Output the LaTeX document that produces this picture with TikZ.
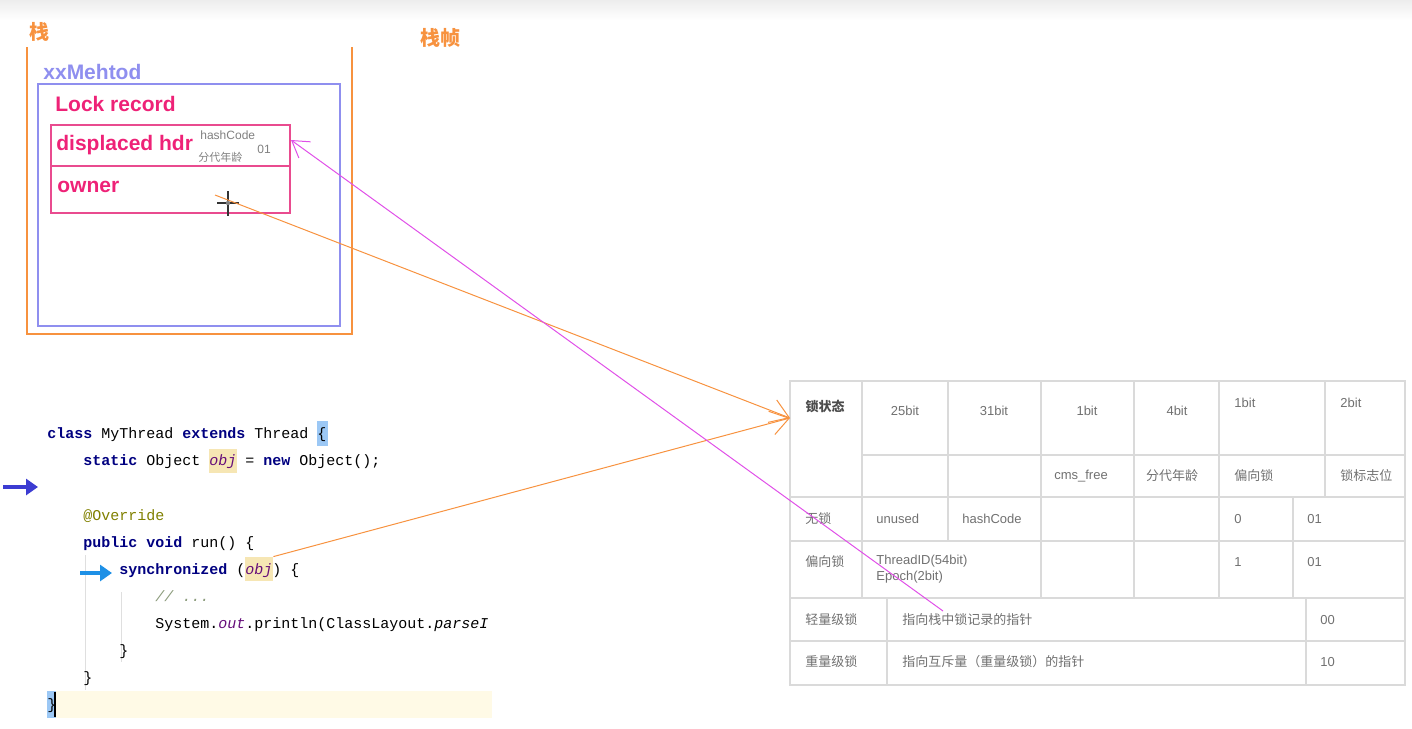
\documentclass[tikz,border=0pt]{standalone}
\usepackage{fontspec}
\setmainfont{Liberation Sans}
\setmonofont{Liberation Mono}
\newfontfamily\cjk{Noto Sans CJK SC}
\usetikzlibrary{arrows.meta}

\definecolor{stackorange}{HTML}{F7923F}
\definecolor{framepurple}{HTML}{8F8FEF}
\definecolor{lockpink}{HTML}{EE2277}
\definecolor{boxpink}{HTML}{E94B8F}
\definecolor{ptrviolet}{HTML}{E050E8}
\definecolor{kwnavy}{HTML}{000080}
\definecolor{fieldpurple}{HTML}{660E7A}
\definecolor{annotolive}{HTML}{808000}
\definecolor{cmtgreen}{HTML}{8A9A7A}
\definecolor{objbg}{HTML}{F6E6B4}
\definecolor{bracebg}{HTML}{9CC8F5}
\definecolor{linebg}{HTML}{FFFAE6}
\definecolor{gridgray}{HTML}{DADADA}
\definecolor{celltext}{HTML}{707070}

\newcommand{\kwd}[1]{\textcolor{kwnavy}{\bfseries #1}}
\newcommand{\fld}[1]{\textcolor{fieldpurple}{\itshape #1}}

\tikzset{
  biglabel/.style={font=\bfseries\fontsize{10.5}{12}\selectfont, anchor=west, inner sep=0},
  code/.style={font=\ttfamily\fontsize{7.5}{9}\selectfont, anchor=base west, inner sep=0},
  cell/.style={font=\fontsize{6.5}{8}\selectfont, text=celltext, inner sep=0},
  grid/.style={gridgray, line width=0.6pt},
  objmark/.style={fill=objbg, minimum width=14pt, minimum height=12pt, inner sep=0},
  orangeptr/.style={stackorange, line width=0.5pt, -{Straight Barb[length=9pt,width=12pt]}},
  violetptr/.style={ptrviolet, line width=0.5pt, -{Straight Barb[length=8pt,width=10pt]}}
}

\begin{document}
\begin{tikzpicture}[x=0.5pt,y=-0.5pt]

\useasboundingbox (0,0) rectangle (1412,728);
\shade[top color=gray!14, bottom color=white] (0,0) rectangle (1412,20);

% stack and frame
\draw[stackorange, line width=1pt] (27,47) -- (27,334) -- (352,334) -- (352,47);
\node[biglabel, text=stackorange, font=\cjk\bfseries\fontsize{10}{12}\selectfont] (stack) at (29,32) {栈};
\node[biglabel, text=stackorange, font=\cjk\bfseries\fontsize{10}{12}\selectfont] (frame) at (420,38) {栈帧};

\draw[framepurple, line width=0.8pt] (38,84) rectangle (340,326);
\node[biglabel, text=framepurple] (method) at (43,72) {xxMehtod};

% lock record
\node[biglabel, text=lockpink] (record) at (55,104) {Lock record};
\draw[boxpink, line width=0.8pt] (51,125) rectangle (290,213);
\draw[boxpink, line width=0.8pt] (51,166) -- (290,166);
\coordinate (hdr) at (291,140);
\node[biglabel, text=lockpink] (displaced) at (56,145) {displaced hdr};
\node[cell, anchor=west, text=gray, font=\fontsize{6}{7}\selectfont] (hdrhash) at (200,135) {hashCode};
\node[cell, anchor=west, text=gray, font=\cjk\fontsize{5.5}{7}\selectfont] (hdrage) at (198,157) {分代年龄};
\node[cell, anchor=west, text=gray, font=\fontsize{6}{7}\selectfont] (hdrbits) at (257,149) {01};
\node[biglabel, text=lockpink] (owner) at (57,187) {owner};

% cursor
\coordinate (grab) at (215,195);
\draw[black!80, line width=0.8pt] (217,203) -- (239,203) (228,191) -- (228,216);
\fill[gray] (228,203) circle (2.2);

% code
\fill[bracebg] (317,421) rectangle (328,446);
\node[objmark] (obj1) at (223,460.5) {};
\node[objmark] (obj2) at (259,569) {};
\fill[linebg] (47,691) rectangle (492,718);
\fill[bracebg] (47,691) rectangle (56,718);
\draw[black, line width=1.2pt] (55,692) -- (55,717);
\draw[gray!25, line width=0.5pt] (85,555) -- (85,690) (121,592) -- (121,662);

\node[code] (l1) at (47,438) {\kwd{class} MyThread \kwd{extends} Thread \{};
\node[code] (l2) at (83,465) {\kwd{static} Object \fld{obj} = \kwd{new} Object();};
\node[code, text=annotolive] (l4) at (83,520) {@Override};
\node[code] (l5) at (83,547) {\kwd{public} \kwd{void} run() \{};
\node[code] (l6) at (119,574) {\kwd{synchronized} (\fld{obj}) \{};
\node[code, text=cmtgreen, font=\ttfamily\itshape\fontsize{7.5}{9}\selectfont] (l7) at (155,601) {// ...};
\node[code] (l8) at (155,628) {System.\fld{out}.println(ClassLayout.\textit{parseI}};
\node[code] (l9) at (119,655) {\}};
\node[code] (l10) at (83,682) {\}};
\node[code] (l11) at (47,709) {\}};

\draw[color={rgb,255:red,60;green,60;blue,210}, line width=2.2pt, -{Triangle[length=6pt,width=8pt]}] (3,487) -- (38,487);
\draw[color={rgb,255:red,30;green,144;blue,230}, line width=2.2pt, -{Triangle[length=6pt,width=8pt]}] (80,573) -- (112,573);

% mark word table
\draw[grid] (790,381) rectangle (1405,685);
\draw[grid] (862,455) -- (1405,455);
\foreach \y in {497,541,598,641}
{
    \draw[grid] (790,\y) -- (1405,\y);
}
\foreach \x in {862,1041,1134,1219}
{
    \draw[grid] (\x,381) -- (\x,598);
}
\draw[grid] (948,381) -- (948,541);
\draw[grid] (1325,381) -- (1325,497);
\draw[grid] (1293,497) -- (1293,598);
\draw[grid] (887,598) -- (887,685);
\draw[grid] (1306,598) -- (1306,685);

\node[cell, text=black!70, font=\cjk\bfseries\fontsize{6.5}{8}\selectfont] (state) at (825,406) {锁状态};
\node[cell] (b25) at (905,411) {25bit};
\node[cell] (b31) at (994,411) {31bit};
\node[cell] (b1a) at (1087,411) {1bit};
\node[cell] (b4) at (1177,411) {4bit};
\node[cell, anchor=west] (b1b) at (1234,403) {1bit};
\node[cell, anchor=west] (b2) at (1340,403) {2bit};
\node[cell] (cms) at (1081,476) {cms\_free};
\node[cell, font=\cjk\fontsize{6.5}{8}\selectfont] (age) at (1172,476) {分代年龄};
\node[cell, anchor=west, font=\cjk\fontsize{6.5}{8}\selectfont] (biasbit) at (1234,476) {偏向锁};
\node[cell, anchor=west, font=\cjk\fontsize{6.5}{8}\selectfont] (flag) at (1340,476) {锁标志位};

\node[cell, anchor=west, font=\cjk\fontsize{6.5}{8}\selectfont] (nolock) at (805,519) {无锁};
\node[cell, anchor=west] (unused) at (876,519) {unused};
\node[cell, anchor=west] (hash) at (962,519) {hashCode};
\node[cell, anchor=west] (nb) at (1234,519) {0};
\node[cell, anchor=west] (nf) at (1307,519) {01};

\node[cell, anchor=west, font=\cjk\fontsize{6.5}{8}\selectfont] (biased) at (805,562) {偏向锁};
\node[cell, anchor=west, align=left] (tid) at (876,569) {ThreadID(54bit)\\Epoch(2bit)};
\node[cell, anchor=west] (bb) at (1234,562) {1};
\node[cell, anchor=west] (bf) at (1307,562) {01};

\node[cell, anchor=west, font=\cjk\fontsize{6.5}{8}\selectfont] (light) at (805,620) {轻量级锁};
\node[cell, anchor=west, font=\cjk\fontsize{6.5}{8}\selectfont] (lightptr) at (902,620) {指向栈中锁记录的指针};
\node[cell, anchor=west] (lf) at (1320,620) {00};
\node[cell, anchor=west, font=\cjk\fontsize{6.5}{8}\selectfont] (heavy) at (805,662) {重量级锁};
\node[cell, anchor=west, font=\cjk\fontsize{6.5}{8}\selectfont] (heavyptr) at (902,662) {指向互斥量（重量级锁）的指针};
\node[cell, anchor=west] (hf) at (1320,662) {10};

% pointers
\coordinate (lockstate) at (790,418);
\coordinate (ptrstart) at (943,611);
\draw[orangeptr] (grab) -- (lockstate);
\draw[orangeptr] (obj2.north east) -- (lockstate);
\draw[violetptr] (ptrstart) -- (hdr);

\end{tikzpicture}
\end{document}
